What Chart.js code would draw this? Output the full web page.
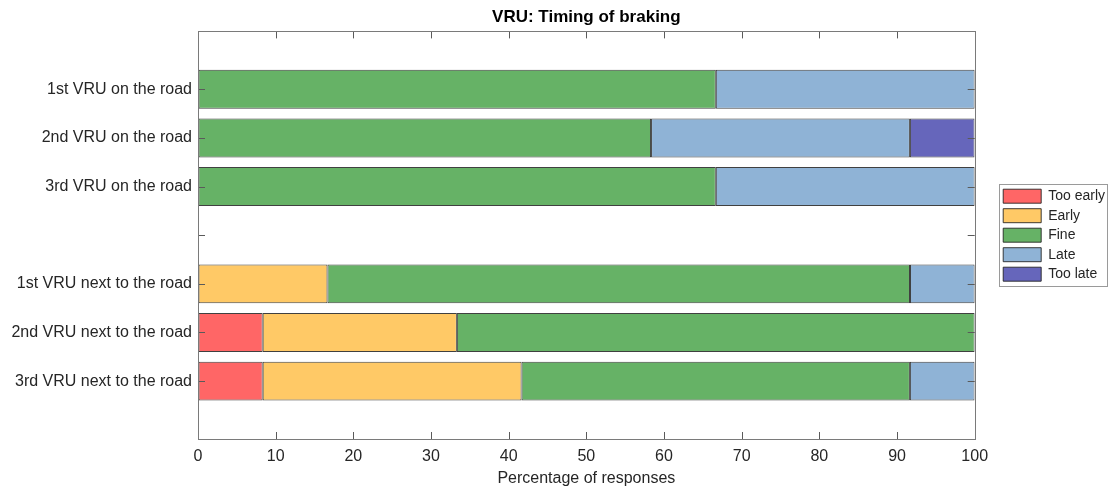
<!DOCTYPE html>
<html>
<head>
<meta charset="utf-8">
<script src="https://cdn.jsdelivr.net/npm/chart.js@4/dist/chart.umd.min.js"></script>
<style>
  html, body { margin: 0; padding: 0; background: #ffffff; }
  #wrap { width: 1110px; height: 490px; }
</style>
</head>
<body>
<div id="wrap"><canvas id="chart" width="1110" height="490"></canvas></div>
<script>
// Braking-timing responses per VRU encounter (percent of responses)
const categories = [
  '1st VRU on the road',
  '2nd VRU on the road',
  '3rd VRU on the road',
  '',
  '1st VRU next to the road',
  '2nd VRU next to the road',
  '3rd VRU next to the road'
];
const seriesNames = ['Too early', 'Early', 'Fine', 'Late', 'Too late'];
const tooEarly = [null, null, null, null, null, 8.33, 8.33];
const early    = [null, null, null, null, 16.67, 25, 33.33];
const fine     = [66.67, 58.33, 66.67, null, 75, 66.67, 50];
const late     = [33.33, 33.33, 33.33, null, 8.33, null, 8.33];
const tooLate  = [null, 8.33, null, null, null, null, null];
const xTicks   = [0, 10, 20, 30, 40, 50, 60, 70, 80, 90, 100];

const seriesValues = [tooEarly, early, fine, late, tooLate];
const seriesColors = ['#FF6666', '#FFC966', '#66B266', '#8FB3D6', '#6666BB'];

const FONT = 'Liberation Sans, Arial, Helvetica, sans-serif';
const TEXT = '#262626';
const EDGE = 'rgba(30,30,30,0.85)';

const datasets = seriesNames.map((name, s) => ({
  label: name,
  data: seriesValues[s].map((v, i) => ({ x: v, y: i + 1 })),
  backgroundColor: seriesColors[s],
  borderColor: EDGE,
  borderWidth: 1,
  borderSkipped: false,
  barPercentage: 0.8,
  categoryPercentage: 1.0
}));

// Box frame with inward tick marks on all four sides
const frameAndTicks = {
  id: 'frameAndTicks',
  afterDatasetsDraw(chart) {
    const { ctx, chartArea: a, scales: { x, y } } = chart;
    const len = 7;
    ctx.save();
    ctx.lineWidth = 1;
    ctx.strokeStyle = '#5a5a5a';
    ctx.beginPath();
    x.ticks.forEach(t => {
      const px = Math.round(x.getPixelForValue(t.value)) + 0.5;
      ctx.moveTo(px, a.bottom); ctx.lineTo(px, a.bottom - len);
      ctx.moveTo(px, a.top); ctx.lineTo(px, a.top + len);
    });
    y.ticks.forEach(t => {
      const py = Math.round(y.getPixelForValue(t.value)) + 0.5;
      ctx.moveTo(a.left, py); ctx.lineTo(a.left + len, py);
      ctx.moveTo(a.right, py); ctx.lineTo(a.right - len, py);
    });
    ctx.stroke();
    ctx.strokeStyle = '#7a7a7a';
    ctx.strokeRect(Math.round(a.left) + 0.5, Math.round(a.top) + 0.5,
                   Math.round(a.right) - Math.round(a.left), Math.round(a.bottom) - Math.round(a.top));
    ctx.restore();
  }
};

// Thin outline around the legend entries
const legendFrame = {
  id: 'legendFrame',
  afterDraw(chart) {
    const boxes = chart.legend && chart.legend.legendHitBoxes;
    if (!boxes || !boxes.length) return;
    const left = Math.min(...boxes.map(b => b.left));
    const right = Math.max(...boxes.map(b => b.left + b.width));
    const top = Math.min(...boxes.map(b => b.top));
    const bottom = Math.max(...boxes.map(b => b.top + b.height));
    const ctx = chart.ctx;
    ctx.save();
    ctx.strokeStyle = '#9a9a9a';
    ctx.lineWidth = 1;
    ctx.strokeRect(Math.round(left - 4) + 0.5, Math.round(top - 5) + 0.5,
                   Math.round(right - left + 6), Math.round(bottom - top + 10));
    ctx.restore();
  }
};

new Chart(document.getElementById('chart'), {
  type: 'bar',
  data: { datasets },
  plugins: [frameAndTicks, legendFrame],
  options: {
    indexAxis: 'y',
    responsive: false,
    animation: false,
    layout: { padding: { left: 0, right: -5, top: 0, bottom: 0 } },
    scales: {
      x: {
        type: 'linear',
        position: 'bottom',
        stacked: true,
        min: 0,
        max: 100,
        afterBuildTicks: s => { s.ticks = xTicks.map(v => ({ value: v })); },
        ticks: { color: TEXT, font: { family: FONT, size: 16 }, padding: 8, maxRotation: 0 },
        grid: { drawOnChartArea: false, drawTicks: false },
        border: { display: false },
        title: {
          display: true,
          text: 'Percentage of responses',
          color: TEXT,
          font: { family: FONT, size: 16 },
          padding: { top: 0, bottom: 2 }
        },
        afterFit: s => { s.height = 51; }
      },
      y: {
        type: 'linear',
        position: 'left',
        stacked: true,
        reverse: true,
        offset: false,
        bounds: 'data',
        min: -0.19,
        max: 8.19,
        afterBuildTicks: s => { s.ticks = categories.map((c, i) => ({ value: i + 1 })); },
        ticks: {
          color: TEXT,
          font: { family: FONT, size: 16 },
          padding: 6,
          autoSkip: false,
          callback: v => categories[v - 1] || ''
        },
        grid: { drawOnChartArea: false, drawTicks: false, offset: false },
        border: { display: false },
        afterFit: s => { s.width = 198; }
      },
      gap: {
        type: 'linear',
        position: 'right',
        display: true,
        ticks: { display: false },
        grid: { display: false },
        border: { display: false },
        afterFit: s => { s.width = 23; }
      }
    },
    plugins: {
      title: {
        display: true,
        text: 'VRU: Timing of braking',
        color: '#000000',
        fullSize: false,
        font: { family: FONT, size: 17, weight: 'bold' },
        padding: { top: 7, bottom: 4 }
      },
      legend: {
        display: true,
        position: 'right',
        fullSize: false,
        align: 'center',
        labels: {
          boxWidth: 38,
          boxHeight: 14,
          padding: 5.5,
          color: TEXT,
          font: { family: FONT, size: 14 }
        }
      },
      tooltip: { enabled: false }
    }
  }
});
</script>
</body>
</html>
